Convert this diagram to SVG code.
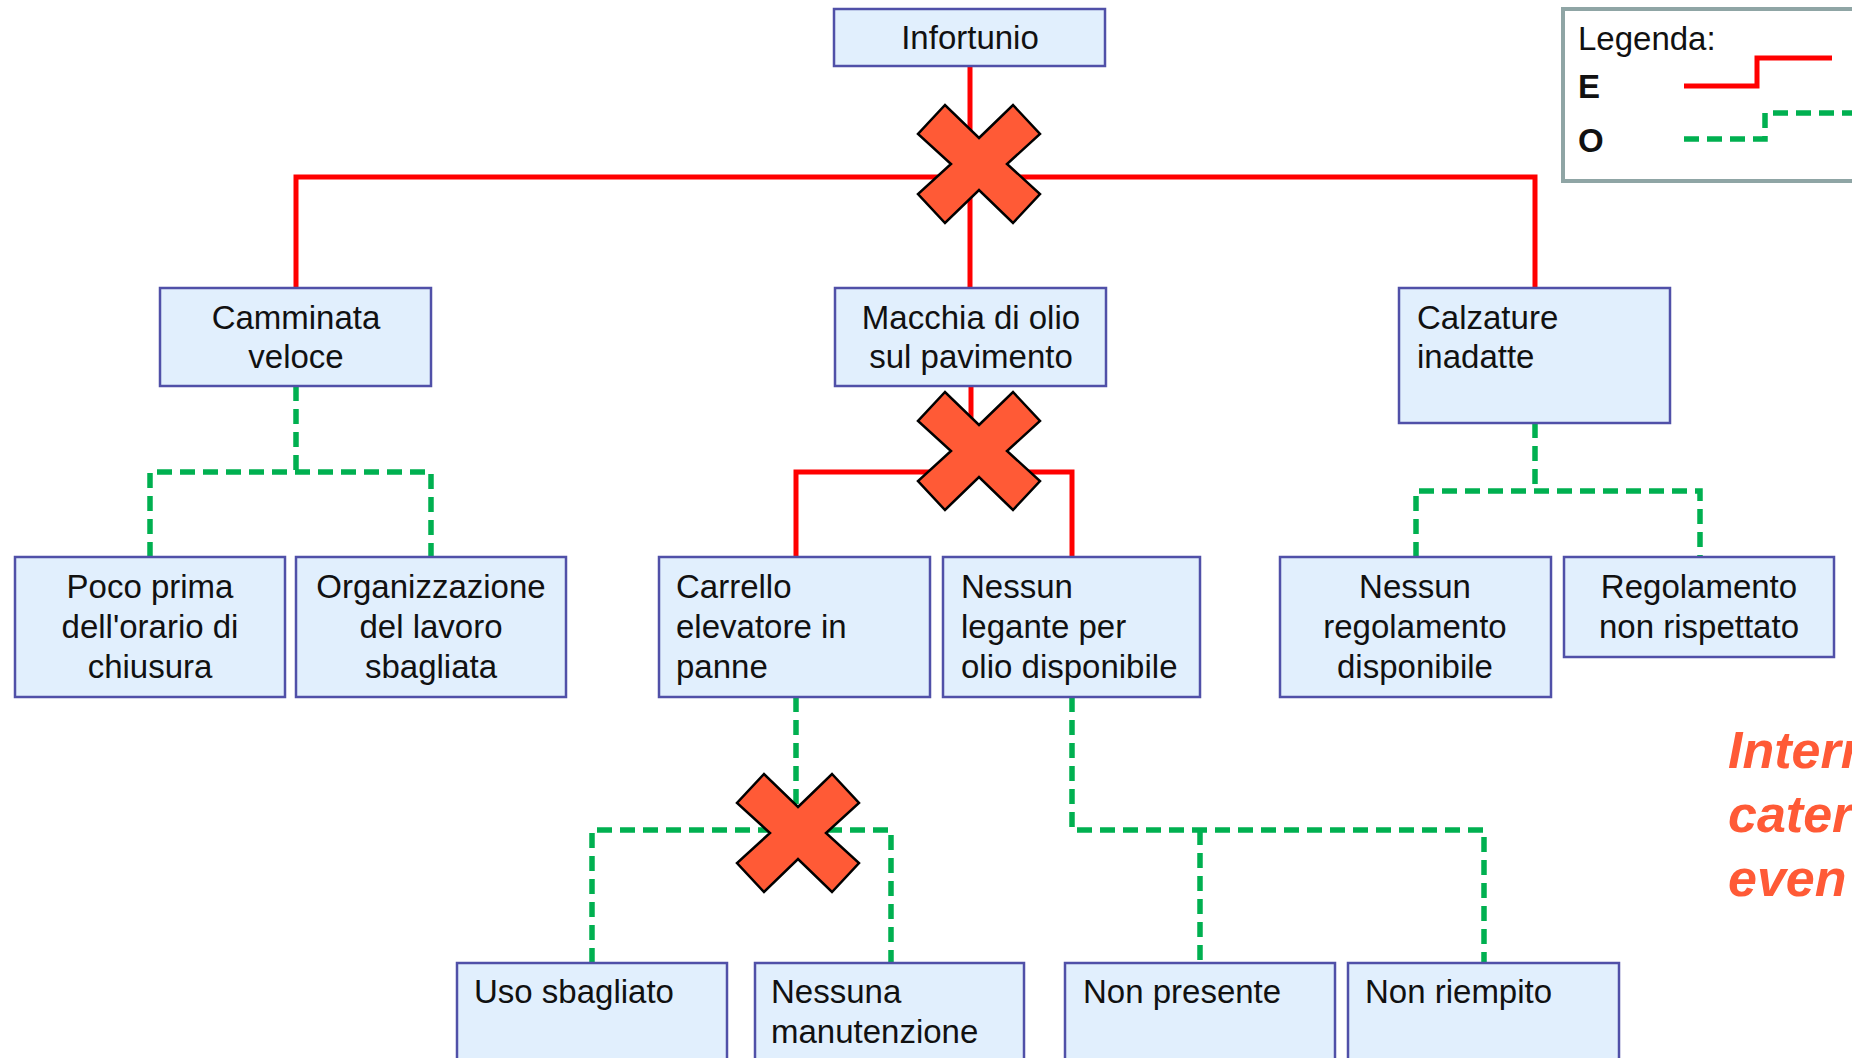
<svg xmlns="http://www.w3.org/2000/svg" width="1852" height="1058" viewBox="0 0 1852 1058">
<defs>
<style>
.box{fill:#e1effd;stroke:#5050a8;stroke-width:2.5}
.t{font-family:"Liberation Sans",Arial,sans-serif;font-size:33px;fill:#111}
.c{text-anchor:middle}
.e{fill:none;stroke:#ff0000;stroke-width:5}
.o{fill:none;stroke:#00b050;stroke-width:5.5;stroke-dasharray:15 8}
.b{font-weight:bold}
.big{font-family:"Liberation Sans",Arial,sans-serif;font-size:52px;font-weight:bold;font-style:italic;fill:#ff5a36}
</style>
<polygon id="cross" points="0,-26 34,-59 61,-30 28,0 61,30 34,59 0,26 -34,59 -61,30 -28,0 -61,-30 -34,-59" fill="#ff5a36" stroke="#000" stroke-width="2.5" stroke-linejoin="miter"/>
</defs>
<rect width="1852" height="1058" fill="#fff"/>
<g id="connectors">
<path class="e" d="M970,66 V288"/>
<path class="e" d="M296,288 V177 H1535 V288"/>
<path class="e" d="M971,386 V472"/>
<path class="e" d="M796,557 V472 H1072 V557"/>
<path class="o" d="M296,386 V472"/>
<path class="o" d="M150,557 V472 H431 V557"/>
<path class="o" d="M1535,423 V491"/>
<path class="o" d="M1416,557 V491 H1700 V557"/>
<path class="o" d="M796,697 V830"/>
<path class="o" d="M592,963 V830 H891 V963"/>
<path class="o" d="M1072,697 V830 H1484 V963"/>
<path class="o" d="M1200,830 V963"/>
</g>
<g id="n-infortunio"><rect class="box" x="834" y="9" width="271" height="57"/><text class="t c" x="970" y="49">Infortunio</text></g>
<g id="n-camminata"><rect class="box" x="160" y="288" width="271" height="98"/><text class="t c" x="296" y="329">Camminata</text><text class="t c" x="296" y="368">veloce</text></g>
<g id="n-macchia"><rect class="box" x="835" y="288" width="271" height="98"/><text class="t c" x="971" y="329">Macchia di olio</text><text class="t c" x="971" y="368">sul pavimento</text></g>
<g id="n-calzature"><rect class="box" x="1399" y="288" width="271" height="135"/><text class="t" x="1417" y="329">Calzature</text><text class="t" x="1417" y="368">inadatte</text></g>
<g id="n-poco"><rect class="box" x="15" y="557" width="270" height="140"/><text class="t c" x="150" y="598">Poco prima</text><text class="t c" x="150" y="638">dell'orario di</text><text class="t c" x="150" y="678">chiusura</text></g>
<g id="n-organizzazione"><rect class="box" x="296" y="557" width="270" height="140"/><text class="t c" x="431" y="598">Organizzazione</text><text class="t c" x="431" y="638">del lavoro</text><text class="t c" x="431" y="678">sbagliata</text></g>
<g id="n-carrello"><rect class="box" x="659" y="557" width="271" height="140"/><text class="t" x="676" y="598">Carrello</text><text class="t" x="676" y="638">elevatore in</text><text class="t" x="676" y="678">panne</text></g>
<g id="n-legante"><rect class="box" x="943" y="557" width="257" height="140"/><text class="t" x="961" y="598">Nessun</text><text class="t" x="961" y="638">legante per</text><text class="t" x="961" y="678">olio disponibile</text></g>
<g id="n-nessunreg"><rect class="box" x="1280" y="557" width="271" height="140"/><text class="t c" x="1415" y="598">Nessun</text><text class="t c" x="1415" y="638">regolamento</text><text class="t c" x="1415" y="678">disponibile</text></g>
<g id="n-regolamento"><rect class="box" x="1564" y="557" width="270" height="100"/><text class="t c" x="1699" y="598">Regolamento</text><text class="t c" x="1699" y="638">non rispettato</text></g>
<g id="n-uso"><rect class="box" x="457" y="963" width="270" height="140"/><text class="t" x="474" y="1003">Uso sbagliato</text></g>
<g id="n-manutenzione"><rect class="box" x="755" y="963" width="269" height="140"/><text class="t" x="771" y="1003">Nessuna</text><text class="t" x="771" y="1043">manutenzione</text></g>
<g id="n-nonpresente"><rect class="box" x="1065" y="963" width="270" height="140"/><text class="t" x="1083" y="1003">Non presente</text></g>
<g id="n-nonriempito"><rect class="box" x="1348" y="963" width="271" height="140"/><text class="t" x="1365" y="1003">Non riempito</text></g>
<g id="crosses">
<use href="#cross" x="979" y="164"/>
<use href="#cross" x="979" y="451"/>
<use href="#cross" x="798" y="833"/>
</g>
<g id="legend">
<rect x="1563" y="9" width="300" height="172" fill="#fff" stroke="#8fa5a5" stroke-width="4"/>
<text class="t" x="1578" y="50">Legenda:</text>
<text class="t b" x="1578" y="98">E</text>
<text class="t b" x="1578" y="152">O</text>
<path class="e" d="M1684,86 H1757 V58 H1832"/>
<path class="o" d="M1684,139 H1765 V113 H1852"/>
</g>
<g id="note">
<text class="big" x="1728" y="768">Interr</text>
<text class="big" x="1728" y="832">cater</text>
<text class="big" x="1728" y="896">even</text>
</g>
</svg>
